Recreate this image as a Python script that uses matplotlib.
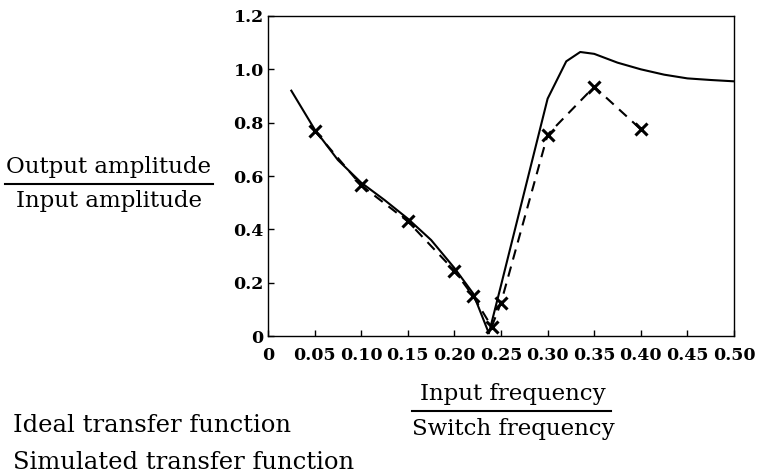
import matplotlib.pyplot as plt
from matplotlib.lines import Line2D

# ideal (solid) transfer function
ideal_x = [0.025, 0.05, 0.075, 0.10, 0.125, 0.15, 0.175, 0.20, 0.22, 0.237,
           0.25, 0.275, 0.30, 0.32, 0.335, 0.35, 0.375, 0.40, 0.425, 0.45, 0.475, 0.50]
ideal_y = [0.92, 0.775, 0.66, 0.575, 0.51, 0.44, 0.36, 0.255, 0.16, 0.01,
           0.19, 0.54, 0.89, 1.03, 1.065, 1.058, 1.025, 1.0, 0.98, 0.966, 0.96, 0.955]

# simulated (dashed, x markers)
sim_x = [0.05, 0.10, 0.15, 0.20, 0.22, 0.24, 0.25, 0.30, 0.35, 0.40]
sim_y = [0.77, 0.565, 0.43, 0.245, 0.15, 0.035, 0.125, 0.755, 0.935, 0.775]

xticks = [0, 0.05, 0.10, 0.15, 0.20, 0.25, 0.30, 0.35, 0.40, 0.45, 0.50]
xtick_labels = ['0', '0.05', '0.10', '0.15', '0.20', '0.25', '0.30', '0.35', '0.40', '0.45', '0.50']
yticks = [0, 0.2, 0.4, 0.6, 0.8, 1.0, 1.2]
ytick_labels = ['0', '0.2', '0.4', '0.6', '0.8', '1.0', '1.2']

plt.rcParams['font.family'] = ['DejaVu Serif']

fig = plt.figure(figsize=(7.59, 4.73), dpi=100)
ax = fig.add_axes([0.3531, 0.2896, 0.614, 0.6766])

ax.plot(ideal_x, ideal_y, 'k-', lw=1.5)
ax.plot(sim_x, sim_y, color='k', ls=(0, (5, 3.5)), lw=1.5,
        marker='x', ms=8, mew=2.2)

ax.set_xlim(0, 0.5)
ax.set_ylim(0, 1.2)
ax.set_xticks(xticks)
ax.set_xticklabels(xtick_labels)
ax.set_yticks(yticks)
ax.set_yticklabels(ytick_labels)
ax.tick_params(direction='in', length=4, width=1, labelsize=12.5)
ax.tick_params(axis='x', pad=8)
ax.tick_params(axis='y', pad=3)
ax.tick_params(top=False, right=False)
for lbl in ax.get_xticklabels() + ax.get_yticklabels():
    lbl.set_fontweight('bold')
for s in ax.spines.values():
    s.set_linewidth(1.0)

fs = 16.5

# y label as fraction
fig.text(109 / 759, 1 - 167 / 473, 'Output amplitude', ha='center', va='center', fontsize=fs)
fig.text(109 / 759, 1 - 201 / 473, 'Input amplitude', ha='center', va='center', fontsize=fs)
fig.add_artist(Line2D([5 / 759, 213 / 759], [1 - 184 / 473, 1 - 184 / 473], color='k', lw=1.5))

# x label as fraction
fig.text(513 / 759, 1 - 394 / 473, 'Input frequency', ha='center', va='center', fontsize=fs)
fig.text(513 / 759, 1 - 429 / 473, 'Switch frequency', ha='center', va='center', fontsize=fs)
fig.add_artist(Line2D([412 / 759, 611 / 759], [1 - 411 / 473, 1 - 411 / 473], color='k', lw=1.5))

# legend text
fig.text(13 / 759, 1 - 425 / 473, 'Ideal transfer function', ha='left', va='center', fontsize=17.5)
fig.text(13 / 759, 1 - 462 / 473, 'Simulated transfer function', ha='left', va='center', fontsize=17.5)

fig.savefig('out.png', dpi=100)
